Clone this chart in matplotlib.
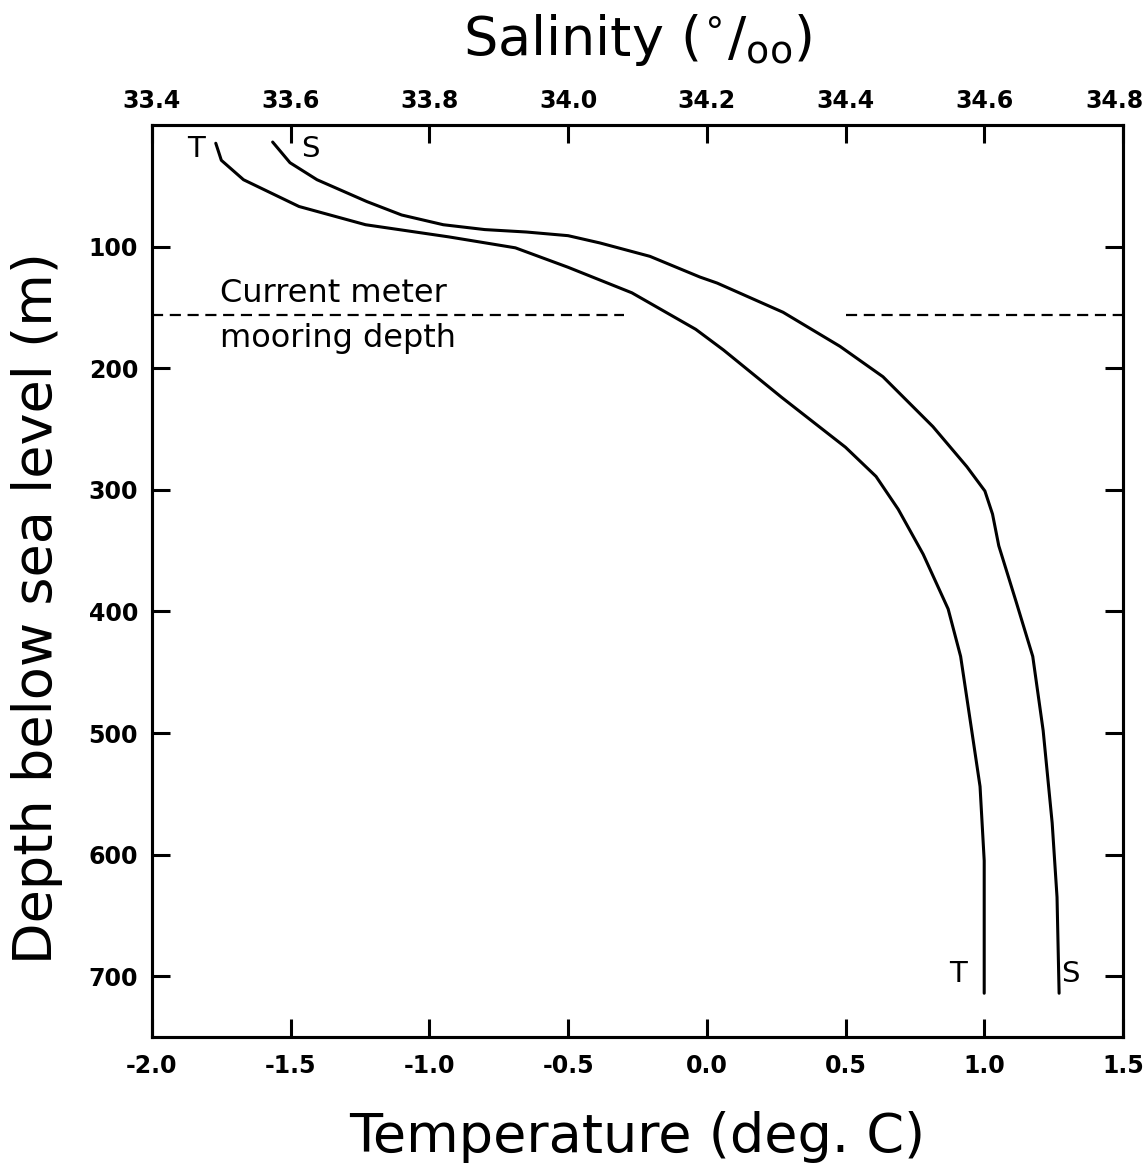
import matplotlib
matplotlib.use("Agg")
import matplotlib.pyplot as plt
from matplotlib.transforms import ScaledTranslation

# temperature profile (deg C) vs depth (m)
temp_depth = [15, 29, 45, 67, 82, 92, 101, 117, 138, 168, 185, 224, 265, 289,
              316, 353, 398, 437, 498, 544, 605, 666, 714]
temp = [-1.77, -1.75, -1.67, -1.47, -1.23, -0.93, -0.69, -0.50, -0.27, -0.04,
        0.06, 0.27, 0.50, 0.61, 0.69, 0.78, 0.87, 0.915, 0.955, 0.985, 1.0,
        1.0, 1.0]

# salinity profile (per mil) vs depth (m)
sal_depth = [14, 31, 45, 63, 74, 82, 86, 88, 91, 97, 108, 125, 130, 154, 182,
             207, 248, 281, 301, 320, 346, 392, 437, 498, 574, 635, 714]
sal = [33.574, 33.599, 33.638, 33.710, 33.760, 33.820, 33.880, 33.940,
       34.000, 34.046, 34.118, 34.190, 34.215, 34.310, 34.392, 34.454,
       34.526, 34.575, 34.601, 34.612, 34.621, 34.646, 34.670, 34.685,
       34.698, 34.705, 34.708]

mooring_depth = 156
depth_ticks = [100, 200, 300, 400, 500, 600, 700]
temp_ticks = [-2.0, -1.5, -1.0, -0.5, 0.0, 0.5, 1.0, 1.5]
sal_ticks = [33.4, 33.6, 33.8, 34.0, 34.2, 34.4, 34.6, 34.8]

plt.rcParams['font.family'] = 'DejaVu Sans'
plt.rcParams['axes.unicode_minus'] = False

fig = plt.figure(figsize=(11.47, 11.64), dpi=100)
ax = fig.add_axes([0.1325, 0.1091, 0.8465, 0.7835])
ax2 = ax.twiny()

ax.plot(temp, temp_depth, color='black', lw=2.2, solid_capstyle='round',
        solid_joinstyle='round')
ax2.plot(sal, sal_depth, color='black', lw=2.2, solid_capstyle='round',
         solid_joinstyle='round')

# mooring depth line, broken around the curves
ax.plot([-2.0, -0.3], [mooring_depth, mooring_depth], color='black',
        lw=1.6, dashes=(5, 3))
ax.plot([0.5, 1.5], [mooring_depth, mooring_depth], color='black',
        lw=1.6, dashes=(5, 3))
ax.text(-1.755, mooring_depth - 5, "Current meter", fontsize=23,
        ha='left', va='bottom')
ax.text(-1.755, mooring_depth + 7, "mooring depth", fontsize=23,
        ha='left', va='top')

# curve labels
ax.text(-1.84, 20, "T", fontsize=21, ha='center', va='center')
ax.text(-1.43, 20, "S", fontsize=21, ha='center', va='center')
ax.text(0.905, 698, "T", fontsize=21, ha='center', va='center')
ax.text(1.31, 698, "S", fontsize=21, ha='center', va='center')

ax.set_xlim(-2.0, 1.5)
ax.set_ylim(750, 0)
ax2.set_xlim(33.4, 34.8)

ax.set_xticks(temp_ticks)
ax.set_xticklabels([f"{t:.1f}" for t in temp_ticks])
ax.set_yticks(depth_ticks)
ax2.set_xticks(sal_ticks)
ax2.set_xticklabels([f"{s:.1f}" for s in sal_ticks])

for a in (ax, ax2):
    for sp in a.spines.values():
        sp.set_linewidth(2.2)

ax.tick_params(axis='x', direction='in', length=13, width=2.2, pad=12,
               labelsize=17)
ax.tick_params(axis='y', direction='in', length=13, width=2.2, pad=10,
               labelsize=17, left=True, right=True)
ax2.tick_params(axis='x', direction='in', length=13, width=2.2, pad=9,
                labelsize=17)
for lab in ax.get_xticklabels() + ax.get_yticklabels() + ax2.get_xticklabels():
    lab.set_fontweight('bold')

# keep the top-right corner label inside the figure
last = ax2.get_xticklabels()[-1]
last.set_transform(last.get_transform()
                   + ScaledTranslation(-6 / 72, 0, fig.dpi_scale_trans))

ax.set_xlabel("Temperature (deg. C)", fontsize=39)
ax.xaxis.set_label_coords(0.5, -0.11)
ax.xaxis.label.set_va('center')
ax.set_ylabel("Depth below sea level (m)", fontsize=39)
ax.yaxis.set_label_coords(-0.118, 0.47)
ax.yaxis.label.set_va('center')
ax2.set_xlabel(r"Salinity ($^{\circ}$/$_{\mathrm{oo}}$)", fontsize=39)
ax2.xaxis.set_label_coords(0.5, 1.093)
ax2.xaxis.label.set_va('center')

fig.savefig("out.png", dpi=100, facecolor='white')
